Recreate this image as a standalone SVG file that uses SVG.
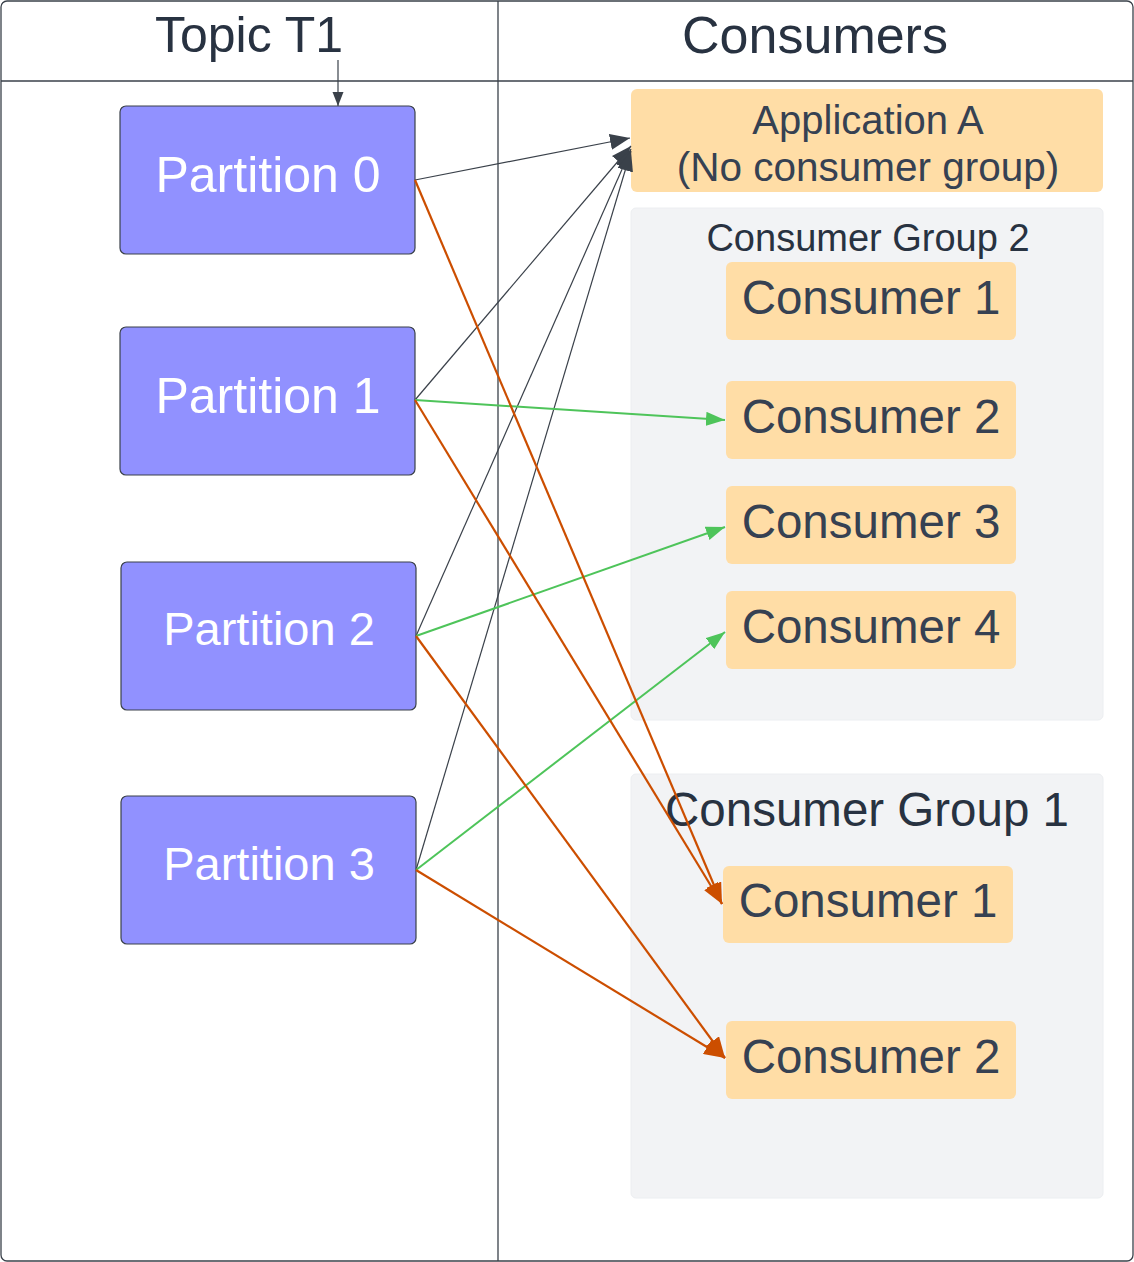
<svg xmlns="http://www.w3.org/2000/svg" width="1134" height="1262" viewBox="0 0 1134 1262">
<style>
  text { font-family: "Liberation Sans", Arial, sans-serif; text-anchor: middle; }
  .frame { fill: #ffffff; stroke: #3a414a; stroke-width: 1.3; }
  .sep { stroke: #3a414a; stroke-width: 1.3; fill: none; }
  .hdr { fill: #283241; }
  .part rect { fill: #9191ff; stroke: #3a414a; stroke-width: 1.2; }
  .part text { font-size: 50px; fill: #ffffff; }
  .cons rect { fill: #ffdda6; }
  .cons text { font-size: 47.5px; fill: #364152; }
  .grp rect { fill: #f2f3f5; stroke: #eceef1; stroke-width: 1; }
  .grp text { fill: #283241; }
  .blk { stroke: #3a414a; stroke-width: 1.2; fill: none; marker-end: url(#mBlk); }
  .blks { stroke: #3a414a; stroke-width: 1.2; fill: none; marker-end: url(#mBlkS); }
  .grn { stroke: #4ec45a; stroke-width: 2; fill: none; marker-end: url(#mGrn); }
  .org { stroke: #cc4e00; stroke-width: 2.2; fill: none; marker-end: url(#mOrg); }
</style>
<defs>
  <marker id="mBlk" markerUnits="userSpaceOnUse" markerWidth="21" markerHeight="16" refX="20" refY="8" orient="auto">
    <path d="M0,0 L20,8 L0,16 z" fill="#3a414a"/>
  </marker>
  <marker id="mBlkS" markerUnits="userSpaceOnUse" markerWidth="15" markerHeight="12" refX="14" refY="6" orient="auto">
    <path d="M0,0.5 L14,6 L0,11.5 z" fill="#3a414a"/>
  </marker>
  <marker id="mGrn" markerUnits="userSpaceOnUse" markerWidth="20" markerHeight="14" refX="19" refY="7" orient="auto">
    <path d="M0,0 L19,7 L0,14 z" fill="#4ec45a"/>
  </marker>
  <marker id="mOrg" markerUnits="userSpaceOnUse" markerWidth="22" markerHeight="16" refX="21" refY="8" orient="auto">
    <path d="M0,0 L21,8 L0,16 z" fill="#cc4e00"/>
  </marker>
</defs>

<g id="frame">
  <rect class="frame" x="1" y="1" width="1132" height="1260" rx="6"/>
  <line class="sep" x1="1" y1="81" x2="1133" y2="81"/>
  <line class="sep" x1="498" y1="1" x2="498" y2="1261"/>
  <text class="hdr" x="249" y="52" style="font-size:50px">Topic T1</text>
  <text class="hdr" x="815" y="53" style="font-size:52px">Consumers</text>
</g>

<g id="group2" class="grp">
  <rect x="631" y="208" width="472" height="512" rx="5"/>
  <text x="868" y="251" style="font-size:38px">Consumer Group 2</text>
</g>
<g id="group1" class="grp">
  <rect x="631" y="774" width="472" height="424" rx="5"/>
  <text x="867" y="826" style="font-size:47.5px">Consumer Group 1</text>
</g>

<g id="partition0" class="part">
  <rect x="120" y="106" width="295" height="148" rx="6"/>
  <text x="268" y="192">Partition 0</text>
</g>
<g id="partition1" class="part">
  <rect x="120" y="327" width="295" height="148" rx="6"/>
  <text x="268" y="413">Partition 1</text>
</g>
<g id="partition2" class="part">
  <rect x="121" y="562" width="295" height="148" rx="6"/>
  <text x="269" y="645" style="font-size:47px">Partition 2</text>
</g>
<g id="partition3" class="part">
  <rect x="121" y="796" width="295" height="148" rx="6"/>
  <text x="269" y="880" style="font-size:47px">Partition 3</text>
</g>

<g id="appA" class="cons">
  <rect x="631" y="89" width="472" height="103" rx="6"/>
  <text x="868" y="134" style="font-size:40px">Application A</text>
  <text x="868" y="181" style="font-size:40.5px">(No consumer group)</text>
</g>

<g id="g2c1" class="cons">
  <rect x="726" y="262" width="290" height="78" rx="6"/>
  <text x="871" y="314">Consumer 1</text>
</g>
<g id="g2c2" class="cons">
  <rect x="726" y="381" width="290" height="78" rx="6"/>
  <text x="871" y="433">Consumer 2</text>
</g>
<g id="g2c3" class="cons">
  <rect x="726" y="486" width="290" height="78" rx="6"/>
  <text x="871" y="538">Consumer 3</text>
</g>
<g id="g2c4" class="cons">
  <rect x="726" y="591" width="290" height="78" rx="6"/>
  <text x="871" y="643">Consumer 4</text>
</g>

<g id="g1c1" class="cons">
  <rect x="723" y="866" width="290" height="77" rx="6"/>
  <text x="868" y="917">Consumer 1</text>
</g>
<g id="g1c2" class="cons">
  <rect x="726" y="1021" width="290" height="78" rx="6"/>
  <text x="871" y="1073">Consumer 2</text>
</g>

<g id="connectors">
  <line class="blks" x1="338" y1="60" x2="338" y2="106"/>
  <line class="blk" x1="415" y1="180" x2="630" y2="138"/>
  <line class="blk" x1="415" y1="400" x2="631" y2="146"/>
  <line class="blk" x1="416" y1="636" x2="631" y2="149"/>
  <line class="blk" x1="416" y1="870" x2="631" y2="151"/>

  <line class="grn" x1="415" y1="400" x2="725" y2="420"/>
  <line class="grn" x1="416" y1="636" x2="725" y2="527"/>
  <line class="grn" x1="416" y1="870" x2="725" y2="632"/>

  <line class="org" x1="415" y1="180" x2="722" y2="904"/>
  <line class="org" x1="415" y1="400" x2="722" y2="904"/>
  <line class="org" x1="416" y1="636" x2="725" y2="1058"/>
  <line class="org" x1="416" y1="870" x2="725" y2="1058"/>
</g>
</svg>
